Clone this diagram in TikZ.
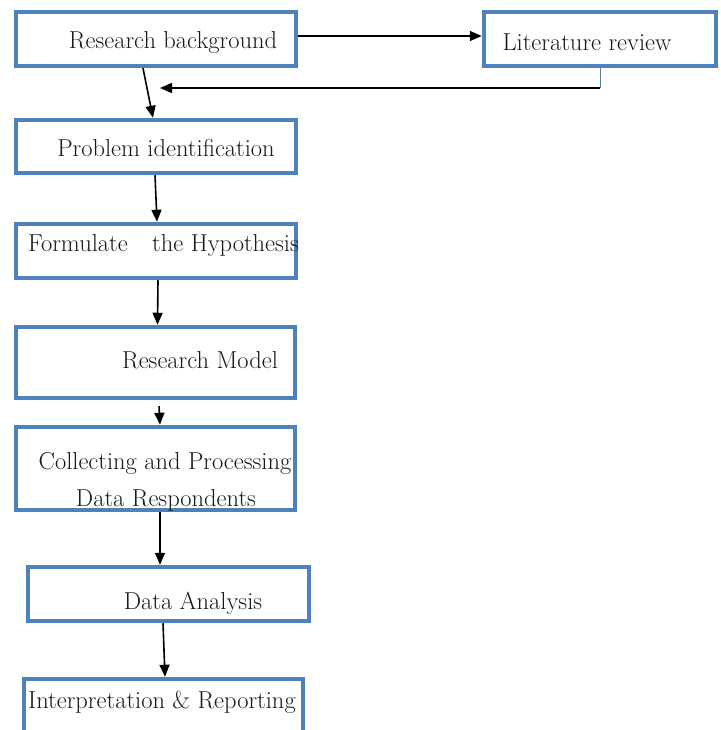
\documentclass[tikz,border=0pt]{standalone}
\usetikzlibrary{arrows.meta}
\definecolor{boxblue}{RGB}{79,129,189}
\begin{document}
\begin{tikzpicture}[x=1pt,y=-1pt,
  box/.style={draw=boxblue,line width=4.5pt,fill=white,rectangle,inner sep=0pt},
  lbl/.style={font=\fontsize{24.5}{29}\selectfont,text=black!90,inner sep=0pt},
  arr/.style={draw=black,line width=1.6pt,-{Triangle[length=12pt,width=10pt]}}]
\useasboundingbox (0,0) rectangle (720,730);
\begin{scope}
\clip (0,0) rectangle (720,730);
\node[box,minimum width=280pt,minimum height=54pt] (b1) at (156,39) {};
\node[box,minimum width=232pt,minimum height=54pt] (lr) at (600,39) {};
\node[box,minimum width=280pt,minimum height=53pt] (b2) at (156,146.5) {};
\node[box,minimum width=280pt,minimum height=54pt] (b3) at (156,251) {};
\node[box,minimum width=279pt,minimum height=71pt] (b4) at (155.5,362.5) {};
\node[box,minimum width=279pt,minimum height=83pt] (b5) at (155.5,468.5) {};
\node[box,minimum width=281pt,minimum height=54pt] (b6) at (168.5,594) {};
\node[box,minimum width=279pt,minimum height=81pt] (b7) at (163.5,719.5) {};

\node[lbl] (t1) at (173,42) {Research background};
\node[lbl] (t2) at (587,42) {Literature review};
\node[lbl] (t3) at (166,148) {Problem identification};
\node[lbl,anchor=west] (t4) at (28,245) {Formulate\quad the Hypothesis};
\node[lbl] (t5) at (200,360) {Research Model};
\node[lbl] (t6a) at (165,463) {Collecting and Processing};
\node[lbl] (t6b) at (166,500) {Data Respondents};
\node[lbl] (t7) at (193,603) {Data Analysis};
\node[lbl] (t8) at (162,702) {Interpretation \& Reporting};

\coordinate (fbc) at (600,88);
\coordinate (fbe) at (160,88);
\draw[arr] ([yshift=3pt]b1.east) -- ([yshift=3pt]lr.west);
\draw[draw=boxblue!70!gray,line width=1pt] (lr.south) -- (fbc);
\draw[arr] (fbc) -- (fbe);
\draw[arr] ([xshift=-13pt]b1.south) -- ([xshift=-3pt]b2.north);
\draw[arr] ([xshift=-1pt]b2.south) -- ([xshift=1pt]b3.north);
\draw[arr] ([xshift=2pt]b3.south) -- ([xshift=2pt]b4.north);
\draw[arr] ([xshift=3.5pt,yshift=-6pt]b4.south) -- ([xshift=4.5pt]b5.north);
\draw[arr] ([xshift=4.5pt]b5.south) -- ([xshift=-8.5pt]b6.north);
\draw[arr] ([xshift=-5.5pt]b6.south) -- ([xshift=1.5pt]b7.north);
\end{scope}
\end{tikzpicture}
\end{document}
